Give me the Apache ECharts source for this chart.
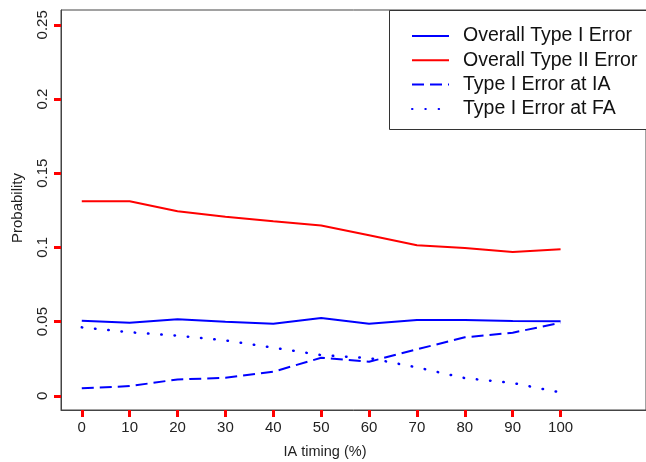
<!DOCTYPE html>
<html>
<head>
<meta charset="UTF-8">
<title>Error probability by IA timing</title>
<script src="https://cdn.jsdelivr.net/npm/echarts@6/dist/echarts.min.js"></script>
<style>html,body{margin:0;padding:0;background:#fff;}</style>
</head>
<body>
<div id="chart" style="width:646px;height:462px;"></div>
<script>
// IA timing (%) on the x axis
var iaTiming = [0, 10, 20, 30, 40, 50, 60, 70, 80, 90, 100];
// values
var overallType1 = [0.0506, 0.0492, 0.0515, 0.0499, 0.0486, 0.0524, 0.0486, 0.0510, 0.0510, 0.0504, 0.0502];
var overallType2 = [0.1311, 0.1311, 0.1244, 0.1207, 0.1176, 0.1147, 0.1082, 0.1014, 0.0996, 0.0969, 0.0987];
var type1AtIA    = [0.0050, 0.0065, 0.0110, 0.0121, 0.0162, 0.0256, 0.0229, 0.0313, 0.0394, 0.0425, 0.0492];
var type1AtFA    = [0.0461, 0.0428, 0.0405, 0.0373, 0.0324, 0.0274, 0.0254, 0.0191, 0.0119, 0.0086, 0.0022];
var xTicks = [0, 10, 20, 30, 40, 50, 60, 70, 80, 90, 100];
var yTicks = [0, 0.05, 0.1, 0.15, 0.2, 0.25];

function pairs(ys) {
    return iaTiming.map(function (x, i) { return [x, ys[i]]; });
}

var font = '"Liberation Sans", Arial, sans-serif';
var chart = echarts.init(document.getElementById('chart'));

var option = {
    animation: false,
    grid: {
        left: 61, top: 10, bottom: 52, right: -6,
        show: true, borderColor: '#444', borderWidth: 1
    },
    xAxis: {
        type: 'value',
        min: -4.34, max: 117.84,
        axisLine: {show: true, onZero: false, lineStyle: {color: '#444'}},
        splitLine: {show: false},
        axisTick: {show: true, length: 7, customValues: xTicks, lineStyle: {color: 'red', width: 3}},
        axisLabel: {customValues: xTicks, margin: 10, fontSize: 15, fontFamily: font, color: '#222'}
    },
    yAxis: {
        type: 'value',
        min: -0.0096, max: 0.26,
        axisLine: {show: true, onZero: false, lineStyle: {color: '#444'}},
        splitLine: {show: false},
        axisTick: {show: true, length: 7, customValues: yTicks, lineStyle: {color: 'red', width: 3}},
        axisLabel: {
            customValues: yTicks, rotate: 90, margin: 11,
            fontSize: 15, fontFamily: font, color: '#222',
            formatter: function (v) { return String(+v.toFixed(2)); }
        }
    },
    legend: {
        orient: 'vertical',
        left: 406, top: 21,
        itemWidth: 37, itemHeight: 14, itemGap: 4.3,
        itemStyle: {color: 'rgba(0,0,0,0)', borderWidth: 0},
        textStyle: {fontSize: 19.5, fontFamily: font, color: '#111', lineHeight: 20, padding: [0, 0, 0, 9]},
        data: ['Overall Type I Error', 'Overall Type II Error', 'Type I Error at IA', 'Type I Error at FA']
    },
    graphic: [
        {type: 'rect', shape: {x: 389.5, y: 10.5, width: 300, height: 119},
         style: {fill: '#fff', stroke: '#333', lineWidth: 1}, z: 0},
        {type: 'text', x: 18, y: 208, rotation: Math.PI / 2,
         style: {text: 'Probability', font: '15px ' + font, fill: '#222', align: 'center', verticalAlign: 'middle'}},
        {type: 'text', x: 325, y: 452,
         style: {text: 'IA timing (%)', font: '14.5px ' + font, fill: '#222', align: 'center', verticalAlign: 'middle'}}
    ],
    series: [
        {name: 'Overall Type I Error', type: 'line', symbol: 'none', data: pairs(overallType1),
         lineStyle: {color: '#0000ff', width: 2}, itemStyle: {color: '#0000ff'}},
        {name: 'Overall Type II Error', type: 'line', symbol: 'none', data: pairs(overallType2),
         lineStyle: {color: '#ff0000', width: 2}, itemStyle: {color: '#ff0000'}},
        {name: 'Type I Error at IA', type: 'line', symbol: 'none', data: pairs(type1AtIA),
         lineStyle: {color: '#0000ff', width: 2, type: [12, 6]}, itemStyle: {color: '#0000ff'}},
        {name: 'Type I Error at FA', type: 'line', symbol: 'none', data: pairs(type1AtFA),
         lineStyle: {color: '#0000ff', width: 2.5, type: [0.5, 12.8], cap: 'round'}, itemStyle: {color: '#0000ff'}}
    ]
};
chart.setOption(option);
</script>
</body>
</html>
